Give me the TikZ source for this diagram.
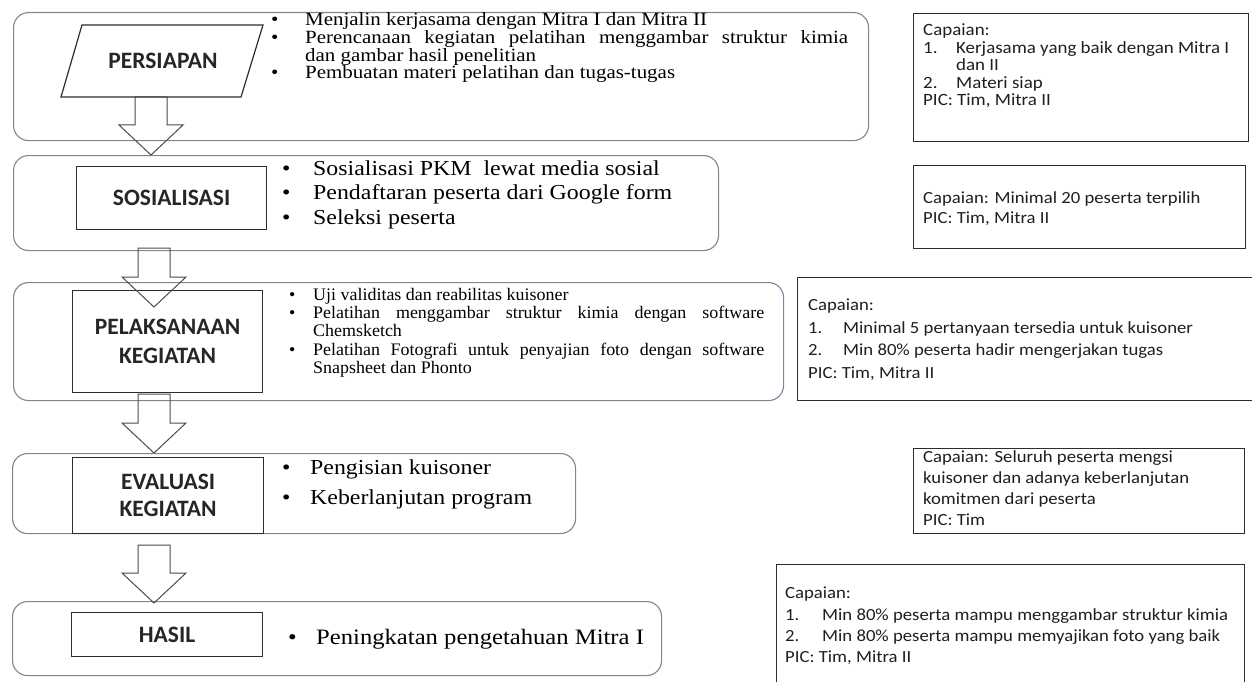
\documentclass[tikz,border=0pt]{standalone}
\usepackage{fontspec}
\setmainfont{Liberation Serif}
\newfontfamily\srf[FakeStretch=1.12]{Liberation Serif}
\newfontfamily\srfn[FakeStretch=1.02]{Liberation Serif}
\newfontfamily\calfnt[FakeStretch=1.1]{Carlito}
\newfontfamily\lblfont{Carlito}
\usetikzlibrary{calc}
\definecolor{rowcol}{RGB}{120,136,152}
\definecolor{ink}{RGB}{45,45,45}
\begin{document}
\begin{tikzpicture}[x=1pt,y=-1pt,
  rowbox/.style={draw=rowcol, line width=1.1pt, rounded corners=15pt, inner sep=0pt, anchor=north west},
  lblbox/.style={draw=ink, line width=1.2pt, inner sep=0pt, anchor=north west, align=center,
     font=\lblfont\bfseries\fontsize{23.5}{30}\selectfont, text=black!85},
  capbox/.style={draw=ink, line width=1.2pt, inner sep=0pt, anchor=north west},
  lbl/.style={font=\lblfont\bfseries\fontsize{23.5}{30}\selectfont, text=black!85, inner sep=0pt, align=center},
  sA/.style={font=\srf\fontsize{18.7}{18}\selectfont, anchor=base west, inner sep=0pt},
  sB/.style={font=\srf\fontsize{21.3}{24}\selectfont, anchor=base west, inner sep=0pt},
  sC/.style={font=\srfn\fontsize{17.6}{18}\selectfont, anchor=base west, inner sep=0pt},
  sE/.style={font=\srf\fontsize{22}{24}\selectfont, anchor=base west, inner sep=0pt},
  cA/.style={font=\calfnt\fontsize{17.2}{18}\selectfont, anchor=base west, inner sep=0pt, text=black!88},
  cB/.style={font=\calfnt\fontsize{17}{18}\selectfont, anchor=base west, inner sep=0pt, text=black!88},
  blockarrow/.style={draw=black!70, line width=1pt, line join=miter},
  pics/downarrow/.style args={#1/#2}{code={
    \draw[blockarrow] (-16,0) -- (16,0) -- (16,#1) -- (32,#1) -- (0,#2) -- (-32,#1) -- (-16,#1) -- cycle;
  }}
]
\useasboundingbox (0,0) rectangle (1252,682);
\fill[white] (0,0) rectangle (1252,682);

% ---------- row frames ----------
\node[rowbox, minimum width=855pt, minimum height=128pt] (r1) at (13,12) {};
\node[rowbox, minimum width=705pt, minimum height=95pt]  (r2) at (13,155) {};
\node[rowbox, minimum width=770pt, minimum height=118pt] (r3) at (13,282) {};
\node[rowbox, minimum width=563pt, minimum height=80pt]  (r4) at (12,453) {};
\node[rowbox, minimum width=649pt, minimum height=74pt]  (r5) at (12,601) {};

% ---------- step labels ----------
\coordinate (pa) at (82,25);
\coordinate (pb) at (263,25);
\coordinate (pc) at (241,97);
\coordinate (pd) at (61,97);
\draw[draw=ink, line width=1.2pt] (pa) -- (pb) -- (pc) -- (pd) -- cycle;
\node[lbl] (persiapan) at (163,61) {PERSIAPAN};
\node[lblbox, minimum width=190pt, minimum height=63pt]  (sos) at (76,166) {SOSIALISASI};
\node[lblbox, minimum width=190pt, minimum height=102pt] (pel) at (72,290) {PELAKSANAAN\\[-1pt]KEGIATAN};
\node[lblbox, minimum width=191pt, minimum height=76pt]  (eva) at (72,457) {EVALUASI\\[-3pt]KEGIATAN};
\node[lblbox, minimum width=191pt, minimum height=44pt]  (has) at (71,612) {HASIL};

% ---------- block arrows ----------
\pic at ($(pd)!0.5!(pc)$) {downarrow=28/58};
\pic at (154,248) {downarrow=29/59};
\pic at (154,394) {downarrow=29/59};
\pic at (154,545) {downarrow=28/58};

% ---------- row 1 bullets ----------
\node[sA] (b1a) at (271,26) {\textbullet};
\node[sA] (t1a) at (305,26) {Menjalin kerjasama dengan Mitra I dan Mitra II};
\node[sA] (b1b) at (271,44) {\textbullet};
\node[sA] (t1b) at (305,44) {\makebox[543pt][s]{Perencanaan kegiatan pelatihan menggambar struktur kimia}};
\node[sA] (t1c) at (305,62) {dan gambar hasil penelitian};
\node[sA] (b1d) at (271,79) {\textbullet};
\node[sA] (t1d) at (305,79) {Pembuatan materi pelatihan dan tugas-tugas};

% ---------- row 2 bullets ----------
\node[sB] (b2a) at (282,175) {\textbullet};
\node[sB] (t2a) at (313,175) {Sosialisasi PKM\ \ lewat media sosial};
\node[sB] (b2b) at (282,199) {\textbullet};
\node[sB] (t2b) at (313,199) {Pendaftaran peserta dari Google form};
\node[sB] (b2c) at (282,224) {\textbullet};
\node[sB] (t2c) at (313,224) {Seleksi peserta};

% ---------- row 3 bullets ----------
\node[sC] (b3a) at (289,300) {\textbullet};
\node[sC] (t3a) at (313,300) {Uji validitas\ dan reabilitas\ kuisoner};
\node[sC] (b3b) at (289,318) {\textbullet};
\node[sC] (t3b) at (313,318) {\makebox[451pt][s]{Pelatihan menggambar struktur kimia dengan software}};
\node[sC] (t3c) at (313,336) {Chemsketch};
\node[sC] (b3d) at (289,355) {\textbullet};
\node[sC] (t3d) at (313,355) {\makebox[451pt][s]{Pelatihan Fotografi untuk penyajian foto dengan software}};
\node[sC] (t3e) at (313,373) {Snapsheet dan Phonto};

% ---------- row 4 bullets ----------
\node[sB] (b4a) at (282,474) {\textbullet};
\node[sB] (t4a) at (310,474) {Pengisian kuisoner};
\node[sB] (b4b) at (282,504) {\textbullet};
\node[sB] (t4b) at (310,504) {Keberlanjutan program};

% ---------- row 5 bullet ----------
\node[sE] (b5a) at (288,644) {\textbullet};
\node[sE] (t5a) at (316,644) {Peningkatan pengetahuan Mitra I};

% ---------- capaian boxes ----------
\node[capbox, minimum width=335pt, minimum height=128pt] (c1) at (913,13) {};
\node[cA] (c1a) at (923,36) {Capaian:};
\node[cA] (c1b) at (923,53.5) {1.};
\node[cA] (c1c) at (956,53.5) {Kerjasama yang baik dengan Mitra I};
\node[cA] (c1d) at (956,71) {dan II};
\node[cA] (c1e) at (923,88.5) {2.};
\node[cA] (c1f) at (956,88.5) {Materi siap};
\node[cA] (c1g) at (923,106) {PIC: Tim, Mitra II};

\node[capbox, minimum width=332pt, minimum height=83pt] (c2) at (913,165) {};
\node[cB] (c2a) at (923,203) {Capaian: Minimal 20 peserta terpilih};
\node[cB] (c2b) at (923,223) {PIC: Tim, Mitra II};

\node[capbox, minimum width=460pt, minimum height=123pt] (c3) at (797,277) {};
\node[cB] (c3a) at (808,310) {Capaian:};
\node[cB] (c3b) at (808,333) {1.};
\node[cB] (c3c) at (843,333) {Minimal 5 pertanyaan tersedia untuk kuisoner};
\node[cB] (c3d) at (808,355) {2.};
\node[cB] (c3e) at (843,355) {Min 80\% peserta hadir mengerjakan tugas};
\node[cB] (c3f) at (808,378) {PIC: Tim, Mitra II};

\node[capbox, minimum width=331pt, minimum height=85pt] (c4) at (913,448) {};
\node[cB] (c4a) at (923,462) {Capaian: Seluruh peserta mengsi};
\node[cB] (c4b) at (923,483) {kuisoner dan adanya keberlanjutan};
\node[cB] (c4c) at (923,504) {komitmen dari peserta};
\node[cB] (c4d) at (923,525) {PIC: Tim};

\node[capbox, minimum width=468pt, minimum height=130pt] (c5) at (776,564) {};
\node[cB] (c5a) at (785,598) {Capaian:};
\node[cB] (c5b) at (785,620) {1.};
\node[cB] (c5c) at (822,620) {Min 80\% peserta mampu menggambar struktur kimia};
\node[cB] (c5d) at (785,641) {2.};
\node[cB] (c5e) at (822,641) {Min 80\% peserta mampu memyajikan foto yang baik};
\node[cB] (c5f) at (785,662) {PIC: Tim, Mitra II};
\end{tikzpicture}
\end{document}
